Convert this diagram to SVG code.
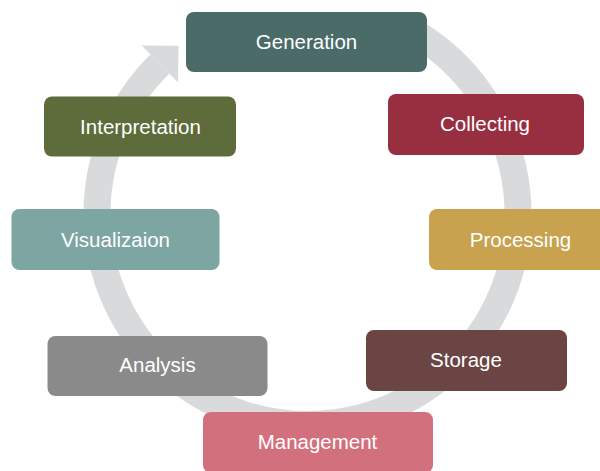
<svg xmlns="http://www.w3.org/2000/svg" width="600" height="471" viewBox="0 0 600 471">
<style>
.box{stroke:none}
.lbl{font-family:"Liberation Sans",Arial,sans-serif;font-size:20.5px;fill:#ffffff;text-anchor:middle}
.ring{fill:none;stroke:#d9dadb;stroke-width:27}
</style>
<rect width="600" height="471" fill="#ffffff"/>
<g id="connectors">
<path class="ring" d="M 409.6 29.9 A 210.5 210.5 0 1 1 160.0 63.8"/>
<polygon points="141.7,45.4 178.4,45.7 178.1,82.4" fill="#d9dadb"/>
</g>
<g id="generation">
<rect class="box" x="186" y="12" width="241" height="60" rx="8" fill="#4b6b69"/>
<text class="lbl" x="306.5" y="49">Generation</text>
</g>
<g id="collecting">
<rect class="box" x="388" y="94" width="196" height="61" rx="8" fill="#982f41"/>
<text class="lbl" x="485" y="131">Collecting</text>
</g>
<g id="processing">
<rect class="box" x="429" y="209" width="185" height="61" rx="8" fill="#c9a24f"/>
<text class="lbl" x="520.5" y="247">Processing</text>
</g>
<g id="storage">
<rect class="box" x="366" y="330" width="201" height="61" rx="8" fill="#6b4543"/>
<text class="lbl" x="466" y="367">Storage</text>
</g>
<g id="management">
<rect class="box" x="203" y="412" width="230" height="61" rx="8" fill="#d2707d"/>
<text class="lbl" x="317.5" y="449">Management</text>
</g>
<g id="analysis">
<rect class="box" x="47.5" y="336" width="220" height="60" rx="8" fill="#8a8a8a"/>
<text class="lbl" x="157.5" y="372">Analysis</text>
</g>
<g id="visualizaion">
<rect class="box" x="11.5" y="209" width="208" height="61" rx="8" fill="#7da5a2"/>
<text class="lbl" x="115.5" y="247">Visualizaion</text>
</g>
<g id="interpretation">
<rect class="box" x="44" y="96.5" width="192" height="60" rx="8" fill="#5e6b3a"/>
<text class="lbl" x="140.5" y="133.5">Interpretation</text>
</g>
</svg>
